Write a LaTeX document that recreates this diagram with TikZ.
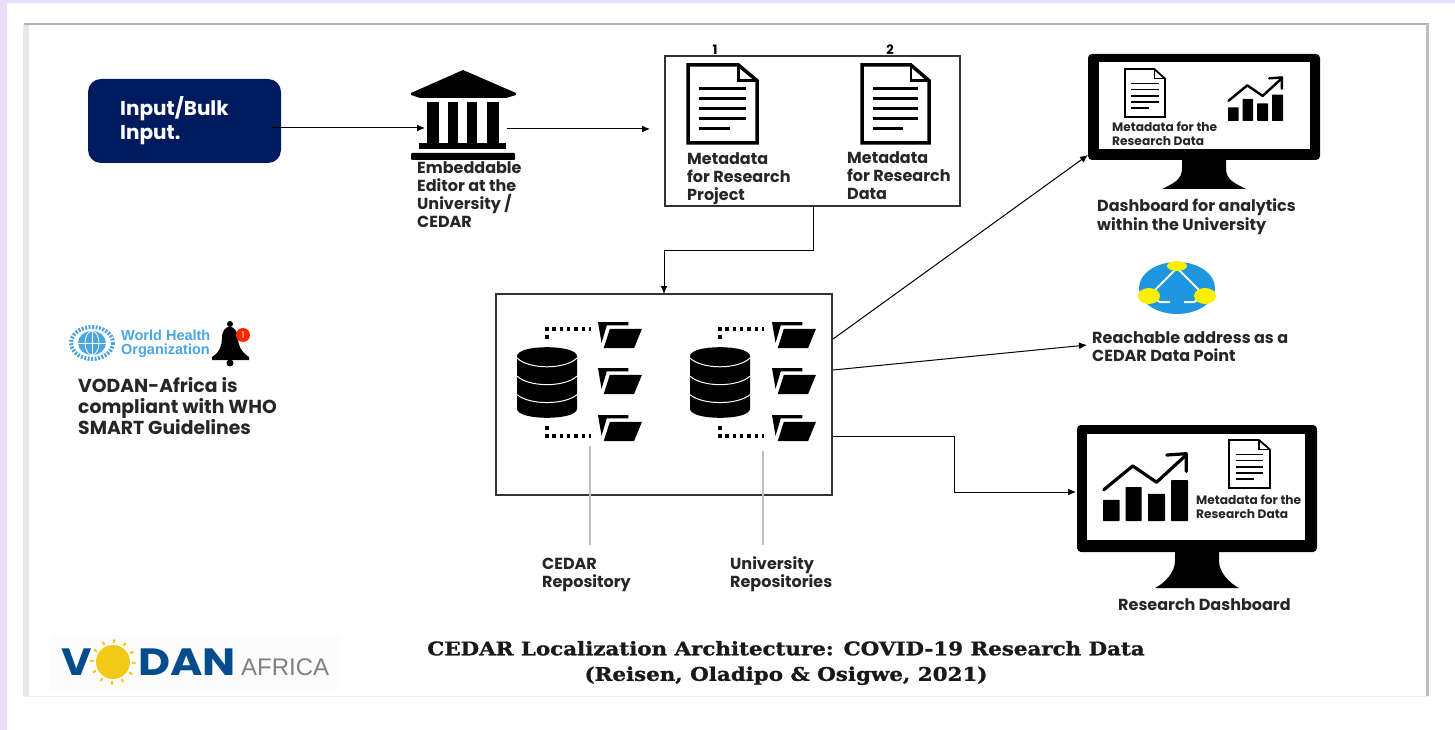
\documentclass[tikz,border=0pt]{standalone}
\usepackage{fontspec}
\setmainfont{Poppins}
\newfontfamily\titlefont[FakeStretch=1.14,BoldFeatures={FakeBold=1.2}]{DejaVu Serif}
\newfontfamily\logofont{Liberation Sans}
\usetikzlibrary{arrows.meta}
\definecolor{lavender}{HTML}{E9DFFB}
\definecolor{navy}{HTML}{001B5E}
\definecolor{whoblue}{HTML}{4BA6E0}
\definecolor{vodanblue}{HTML}{044C8C}
\definecolor{sunyellow}{HTML}{F2C916}
\definecolor{netblue}{HTML}{1E96E0}
\definecolor{netyellow}{HTML}{FBF000}
\tikzset{
	lbl/.style={anchor=west, align=left, inner sep=0pt, text=black!85, font=\bfseries\fontsize{16}{18}\selectfont},
	smalllbl/.style={lbl, font=\bfseries\fontsize{12.2}{14}\selectfont},
	box/.style={draw=black!80, line width=1.5pt, fill=white, inner sep=0pt},
	conn/.style={line width=1pt, -{Latex[length=8pt,width=7pt]}},
	pointer/.style={line width=1.2pt, color=black!25},
	dots/.style={line width=3.5pt, dash pattern=on 3.5pt off 3.8pt}
}
% icons, all given by left, top, width, height
\def\docicon(#1,#2)(#3,#4)[#5]{\begin{scope}[shift={(#1,#2)},xscale=#3,yscale=#4]
	\draw[line width=#5, line join=miter, fill=white] (0, 0) -- (0.73, 0) -- (1, 0.2) -- (1, 1) -- (0, 1) -- cycle;
	\draw[line width=#5*0.7] (0.73, 0) -- (0.73, 0.2) -- (1, 0.2);
	\draw[line width=#5*0.85] (0.16, 0.30) -- (0.84, 0.30);
	\draw[line width=#5*0.85] (0.16, 0.43) -- (0.84, 0.43);
	\draw[line width=#5*0.85] (0.16, 0.56) -- (0.84, 0.56);
	\draw[line width=#5*0.85] (0.16, 0.69) -- (0.84, 0.69);
	\draw[line width=#5*0.85] (0.16, 0.81) -- (0.61, 0.81);
\end{scope}}
\def\charticon(#1,#2)(#3,#4)[#5]{\begin{scope}[shift={(#1,#2)},xscale=#3,yscale=#4]
	\fill[rounded corners=0.6pt] (0, 0.69) rectangle (0.195, 1);
	\fill[rounded corners=0.6pt] (0.265, 0.5) rectangle (0.455, 1);
	\fill[rounded corners=0.6pt] (0.53, 0.6) rectangle (0.73, 1);
	\fill[rounded corners=0.6pt] (0.8, 0.4) rectangle (1, 1);
	\draw[line width=#5, line cap=round, line join=round] (0.01, 0.54) -- (0.35, 0.19) -- (0.63, 0.43) -- (0.96, 0.05);
	\draw[line width=#5, line cap=round, line join=round] (0.75, 0.03) -- (0.98, 0.01) -- (0.98, 0.27);
\end{scope}}
\def\foldericon(#1,#2){\begin{scope}[shift={(#1,#2)},xscale=44,yscale=26]
	\fill (0, 0) -- (0.69, 0) -- (0.69, 0.13) -- (0.2, 0.13) -- (0.08, 0.8) -- cycle;
	\fill (0.27, 0.26) -- (1, 0.26) -- (0.82, 1) -- (0.13, 1) -- cycle;
\end{scope}}
\def\dbicon(#1,#2){\begin{scope}[shift={(#1,#2)},xscale=60,yscale=71]
	\fill (0, 0.13) .. controls (0, -0.04) and (1, -0.04) .. (1, 0.13) -- (1, 0.87) .. controls (1, 1.04) and (0, 1.04) .. (0, 0.87) -- cycle;
	\draw[white, line width=1pt] (0, 0.155) .. controls (0.2, 0.32) and (0.8, 0.32) .. (1, 0.155);
	\draw[white, line width=1pt] (0, 0.41) .. controls (0.2, 0.57) and (0.8, 0.57) .. (1, 0.41);
	\draw[white, line width=1pt] (0, 0.67) .. controls (0.2, 0.82) and (0.8, 0.82) .. (1, 0.67);
\end{scope}}
\def\monitoricon(#1,#2,#3,#4)(#5,#6,#7,#8)(#9){\fill[rounded corners=4pt] (#1, #2) rectangle (#3, #4);
	\fill[white] (#5, #6) rectangle (#7, #8);
	\fill ({(#1+#3)/2-22}, #4) -- ({(#1+#3)/2-22}, {#4+9}) .. controls ({(#1+#3)/2-22}, {#4+20}) and ({(#1+#3)/2-32}, {#9-5}) .. ({(#1+#3)/2-42}, #9) -- ({(#1+#3)/2+42}, #9) .. controls ({(#1+#3)/2+32}, {#9-5}) and ({(#1+#3)/2+22}, {#4+20}) .. ({(#1+#3)/2+22}, {#4+9}) -- ({(#1+#3)/2+22}, #4) -- cycle;}

\begin{document}
\begin{tikzpicture}[x=1pt, y=-1pt]
	%%%%% PAGE %%%%%
	\useasboundingbox (0, 0) rectangle (1455, 730);
	\fill[white] (0, 0) rectangle (1455, 730);
	\fill[lavender] (0, 0) rectangle (1455, 3);
	\fill[lavender] (0, 0) rectangle (7, 730);
	
	\fill[black!9] (23, 25) rectangle (29, 696);
	\draw[line width=1.5pt, color=black!30] (24, 24) -- (1429, 24);
	\draw[line width=2.5pt, color=black!25] (1427.5, 24) -- (1427.5, 696);
	\draw[line width=0.8pt, color=black!6] (24, 696) -- (1428, 696);
	
	%%%%% INPUT %%%%%
	\node[fill=navy, rounded corners=13pt, minimum width=193pt, minimum height=84pt, inner sep=0pt] (inputbox) at (184.5, 121) {};
	\node[lbl, text=white, font=\bfseries\fontsize{20}{23.5}\selectfont] (inputlbl) at (120, 120.5) {Input/Bulk\\Input.};
	
	%%%%% EDITOR %%%%%
	\fill (411, 93) -- (463, 70) -- (516, 93) -- (516, 95) -- (506, 98) -- (420, 98) -- (411, 95) -- cycle;
	\fill (427, 102) rectangle (439, 143);
	\fill (448, 102) rectangle (458, 143);
	\fill (467, 102) rectangle (477, 143);
	\fill (487, 102) rectangle (499, 143);
	\fill (419, 143) rectangle (506, 149);
	\fill[rounded corners=1pt] (411, 153) rectangle (515, 160);
	\node[lbl] (editorlbl) at (417, 194.5) {Embeddable\\Editor at the\\University /\\CEDAR};
	
	%%%%% METADATA %%%%%
	\node[box, minimum width=295pt, minimum height=150pt] (metabox) at (812.5, 131) {};
	\docicon(688, 65)(69, 78)[3.5pt]
	\docicon(862, 65)(67, 78)[3.5pt]
	\node[inner sep=0pt, font=\bfseries\fontsize{13}{14}\selectfont] (onelbl) at (715, 50) {1};
	\node[inner sep=0pt, font=\bfseries\fontsize{13}{14}\selectfont] (twolbl) at (890, 50) {2};
	\node[lbl] (projectlbl) at (687, 178.5) {Metadata\\for Research\\Project};
	\node[lbl] (datalbl) at (847, 176) {Metadata\\for Research\\Data};
	
	%%%%% REPOSITORIES %%%%%
	\node[box, minimum width=336pt, minimum height=201pt] (repobox) at (664, 394.5) {};
	
	\dbicon(517, 347)
	\dbicon(690, 347)
	\foldericon(598, 322)
	\foldericon(598, 368)
	\foldericon(598, 415)
	\foldericon(772, 322)
	\foldericon(772, 368)
	\foldericon(772, 415)
	
	\draw[dots] (545, 329) -- (591, 329);
	\draw[dots] (545, 337) -- (549, 337);
	\draw[dots] (545, 428) -- (549, 428);
	\draw[dots] (545, 436) -- (591, 436);
	\draw[dots] (718, 329) -- (764, 329);
	\draw[dots] (718, 337) -- (722, 337);
	\draw[dots] (718, 428) -- (722, 428);
	\draw[dots] (718, 436) -- (764, 436);
	
	\node[lbl] (cedarlbl) at (542, 575) {CEDAR\\Repository};
	\node[lbl] (unilbl) at (730, 574) {University\\Repositories};
	\coordinate (cedartop) at (590, 446);
	\coordinate (cedarend) at (590, 545);
	\coordinate (unitop) at (763, 451);
	\coordinate (uniend) at (763, 545);
	\draw[pointer] (cedartop) -- (cedarend);
	\draw[pointer] (unitop) -- (uniend);
	
	%%%%% TOP DASHBOARD %%%%%
	\monitoricon(1088, 54, 1320, 160)(1099, 62, 1310, 149)(189)
	\docicon(1125, 69)(40, 48)[1.8pt]
	\charticon(1228, 77)(55, 44)[2.4pt]
	\node[smalllbl] (topmetalbl) at (1112, 134) {Metadata for the\\Research Data};
	\node[lbl, font=\bfseries\fontsize{16}{19}\selectfont] (analyticslbl) at (1097, 216.5) {Dashboard for analytics\\within the University};
	
	%%%%% DATA POINT %%%%%
	\fill[netblue] (1177, 288) ellipse (38 and 26);
	\draw[white, line width=2pt] (1177, 268) -- (1149, 296);
	\draw[white, line width=2pt] (1177, 268) -- (1205, 296);
	\draw[white, line width=2pt] (1149, 296) -- (1160, 302) -- (1170, 302);
	\draw[white, line width=2pt] (1205, 296) -- (1194, 302) -- (1184, 302);
	\fill[netblue] (1177, 285) -- (1189, 297) -- (1182, 297) -- (1182, 312) -- (1172, 312) -- (1172, 297) -- (1165, 297) -- cycle;
	\fill[netyellow] (1177, 266) ellipse (10 and 5);
	\fill[netyellow] (1149, 296) ellipse (11 and 8);
	\fill[netyellow] (1205, 296) ellipse (11 and 8);
	\node[lbl] (pointlbl) at (1092, 346.5) {Reachable address as a\\CEDAR Data Point};
	
	%%%%% RESEARCH DASHBOARD %%%%%
	\monitoricon(1077, 425, 1317, 552)(1087, 434, 1305, 540)(588)
	\docicon(1229, 440)(41, 48)[1.8pt]
	\charticon(1103, 453)(85, 68)[3.2pt]
	\node[smalllbl] (lowmetalbl) at (1196, 507) {Metadata for the\\Research Data};
	\node[lbl] (researchlbl) at (1118, 605) {Research Dashboard};
	
	%%%%% WHO %%%%%
	\draw[whoblue, line width=4pt, dash pattern=on 2pt off 1.5pt] (92, 343) ellipse (21 and 16);
	\fill[whoblue] (92, 343) ellipse (14 and 12);
	\draw[white, line width=0.8pt] (92, 331) -- (92, 355);
	\draw[white, line width=0.8pt] (78, 343) -- (106, 343);
	\draw[white, line width=0.8pt] (92, 343) ellipse (7 and 12);
	\node[inner sep=0pt, anchor=west, align=left, text=whoblue, font=\logofont\bfseries\fontsize{14.5}{14.5}\selectfont] (wholbl) at (121, 344) {World Health\\Organization};
	\fill (212, 357) .. controls (220, 352) and (222, 345) .. (222, 338) .. controls (222, 323) and (237, 323) .. (238, 338) .. controls (238, 345) and (241, 352) .. (249, 357) -- (249, 360) -- (212, 360) -- cycle;
	\fill (230, 324) circle (3);
	\fill (230, 363) circle (3.5);
	\node[circle, fill=orange!30!red, text=white, inner sep=0pt, minimum size=14pt, font=\fontsize{9}{9}\selectfont] (badge) at (243, 335) {1};
	\node[lbl, font=\bfseries\fontsize{18.8}{21}\selectfont] (wholine) at (78, 406) {VODAN-Africa is\\compliant with WHO\\SMART Guidelines};
	
	%%%%% VODAN %%%%%
	\fill[black!1] (50, 635) rectangle (340, 690);
	\draw[sunyellow, line width=3.5pt, dash pattern=on 2pt off 9pt] (113, 662) circle (21);
	\fill[sunyellow] (113, 662) circle (17);
	\node[inner sep=0pt, anchor=base west, text=vodanblue, font=\bfseries\fontsize{38}{38}\selectfont] (vlbl) at (61, 675) {\scalebox{1.1}[1]{V}};
	\node[inner sep=0pt, anchor=base west, text=vodanblue, font=\bfseries\fontsize{38}{38}\selectfont] (danlbl) at (138, 675) {\scalebox{1.16}[1]{DAN}};
	\node[inner sep=0pt, anchor=base west, text=black!50, font=\logofont\fontsize{24}{24}\selectfont] (africalbl) at (241, 675) {AFRICA};
	
	%%%%% TITLE %%%%%
	\node[inner sep=0pt, align=center, text=black!90, font=\titlefont\bfseries\fontsize{18.75}{25.5}\selectfont] (titlelbl) at (786, 663) {CEDAR Localization Architecture: COVID-19 Research Data\\(Reisen, Oladipo \& Osigwe, 2021)};
	
	%%%%% CONNECTORS %%%%%
	\coordinate (inputout) at (272, 128);
	\coordinate (editorin) at (425, 128);
	\coordinate (editorout) at (507, 129);
	\coordinate (metain) at (650, 129);
	\coordinate (metaout) at (813, 206);
	\coordinate (repoin) at (664, 294);
	\coordinate (topout) at (833, 339);
	\coordinate (topin) at (1088, 155);
	\coordinate (pointout) at (833, 370);
	\coordinate (pointin) at (1087, 345);
	\coordinate (lowout) at (833, 436);
	\coordinate (lowin) at (1076, 492);
	
	\draw[conn] (inputout) -- (editorin);
	\draw[conn] (editorout) -- (metain);
	\draw[conn] (metaout) -- (813, 250) -- (664, 250) -- (repoin);
	\draw[conn] (topout) -- (topin);
	\draw[conn] (pointout) -- (pointin);
	\draw[conn] (lowout) -- (954, 436) -- (954, 492) -- (lowin);
	
\end{tikzpicture}
\end{document}
